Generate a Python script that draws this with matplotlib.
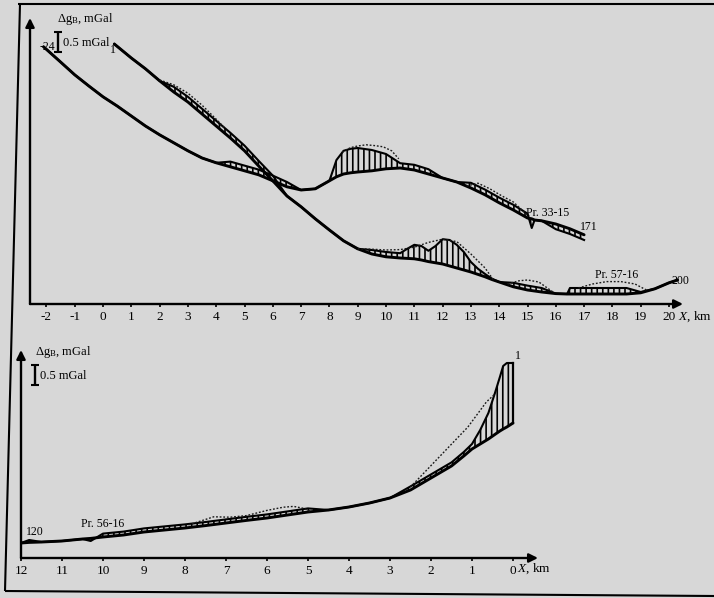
import numpy as np
import matplotlib
matplotlib.use("Agg")
import matplotlib.pyplot as plt
from matplotlib.lines import Line2D

plt.rcParams['font.family'] = ['Liberation Serif', 'DejaVu Serif']
plt.rcParams['mathtext.fontset'] = 'custom'
plt.rcParams['mathtext.rm'] = 'Liberation Serif'
plt.rcParams['mathtext.it'] = 'Liberation Serif:italic'
plt.rcParams['hatch.linewidth'] = 1.2
plt.rcParams['hatch.color'] = 'black'

# ---------------- data (relative mGal) ----------------
# Upper panel, profile starting at point -24 (ends at 171)
top_xG = [-2.1, -1.5, -1.0, -0.5, 0.0, 0.5, 1.0, 1.5, 2.0, 2.5, 3.0, 3.5, 4.0, 4.5, 5.0,
          5.5, 6.0, 6.5, 7.0, 7.5, 8.0, 8.25, 8.5, 8.75, 9.0, 9.5, 10.0, 10.5, 11.0, 11.5,
          12.0, 12.5, 13.0, 13.5, 14.0, 14.5, 15.0, 15.15, 15.25, 15.5, 16.0, 16.5, 17.0]
top_regG = [6.43, 6.05, 5.73, 5.45, 5.18, 4.95, 4.70, 4.45, 4.23, 4.03, 3.83, 3.65, 3.53, 3.43, 3.33,
            3.23, 3.08, 2.93, 2.85, 2.88, 3.08, 3.18, 3.25, 3.28, 3.30, 3.33, 3.38, 3.40, 3.35, 3.25,
            3.15, 3.05, 2.90, 2.73, 2.53, 2.35, 2.15, 2.13, 2.10, 2.08, 2.00, 1.88, 1.73]
top_obsG = [6.43, 6.05, 5.73, 5.45, 5.18, 4.95, 4.70, 4.45, 4.23, 4.03, 3.83, 3.65, 3.53, 3.56, 3.46,
            3.36, 3.21, 3.05, 2.85, 2.88, 3.08, 3.60, 3.83, 3.88, 3.90, 3.85, 3.75, 3.52, 3.48, 3.37,
            3.15, 3.05, 3.03, 2.86, 2.66, 2.48, 2.26, 1.90, 2.10, 2.08, 1.87, 1.75, 1.60]
top_dotG1_x = [8.45, 8.75, 9.0, 9.3, 9.6, 9.9, 10.2, 10.45]
top_dotG1_y = [3.80, 3.91, 3.95, 3.98, 3.96, 3.93, 3.83, 3.63]
top_dotG2_x = [12.85, 13.25, 13.67, 14.1, 14.5, 15.0]
top_dotG2_y = [2.95, 3.02, 2.88, 2.70, 2.55, 2.22]

# Upper panel, profile starting at point 1 (ends at 200)
top_xS = [0.4, 1.0, 1.5, 2.0, 2.5, 3.0, 3.5, 4.0, 4.5, 5.0, 5.5, 6.0, 6.5, 7.0, 7.5, 8.0,
          8.5, 9.0, 9.5, 10.0, 10.5, 10.75, 11.0, 11.25, 11.5, 11.75, 12.0, 12.25, 12.5,
          12.75, 13.0, 13.25, 13.5, 13.75, 14.0, 14.5, 15.0, 15.5, 16.0, 16.4, 16.5, 17.0,
          17.5, 18.0, 18.5, 19.0, 19.5, 20.0, 20.3]
top_regS = [6.50, 6.15, 5.88, 5.58, 5.30, 5.05, 4.75, 4.45, 4.15, 3.83, 3.45, 3.08, 2.70, 2.43, 2.13, 1.85,
            1.58, 1.38, 1.25, 1.18, 1.15, 1.14, 1.13, 1.10, 1.06, 1.03, 1.00, 0.95, 0.90,
            0.85, 0.80, 0.74, 0.68, 0.61, 0.55, 0.43, 0.35, 0.30, 0.26, 0.25, 0.25, 0.25,
            0.25, 0.25, 0.25, 0.28, 0.38, 0.53, 0.60]
top_obsS = [6.50, 6.15, 5.88, 5.58, 5.43, 5.18, 4.88, 4.58, 4.28, 3.96, 3.58, 3.21, 2.70, 2.43, 2.13, 1.85,
            1.58, 1.38, 1.35, 1.30, 1.27, 1.38, 1.48, 1.45, 1.33, 1.45, 1.62, 1.60, 1.48,
            1.30, 1.05, 0.88, 0.75, 0.63, 0.55, 0.53, 0.46, 0.40, 0.26, 0.25, 0.40, 0.40,
            0.40, 0.40, 0.40, 0.30, 0.38, 0.53, 0.60]
top_dotS1_x = [2.0, 2.5, 3.0, 3.5, 4.0, 4.3]
top_dotS1_y = [5.60, 5.48, 5.27, 4.97, 4.62, 4.40]
top_dotS2_x = [9.0, 9.5, 10.0, 10.5, 11.0, 11.5, 12.0, 12.5, 13.0, 13.5, 13.8]
top_dotS2_y = [1.38, 1.37, 1.35, 1.36, 1.42, 1.54, 1.62, 1.56, 1.25, 0.90, 0.60]
top_dotS3_x = [14.3, 14.7, 15.0, 15.4, 15.9]
top_dotS3_y = [0.50, 0.58, 0.60, 0.55, 0.30]
top_dotS4_x = [16.8, 17.3, 17.8, 18.3, 18.8, 19.2]
top_dotS4_y = [0.40, 0.50, 0.56, 0.56, 0.50, 0.35]

top_ticks = list(range(-2, 21))
top_ticklabels = [str(t) if t >= 0 else '-' + str(-t) for t in top_ticks]

# Lower panel, Pr. 56-16
bot_x = [12.0, 11.8, 11.5, 11.0, 10.5, 10.3, 10.0, 9.5, 9.0, 8.5, 8.0, 7.5, 7.0, 6.5, 6.0, 5.5,
         5.0, 4.5, 4.0, 3.5, 3.0, 2.5, 2.0, 1.5, 1.2, 1.0, 0.8, 0.6, 0.44, 0.32, 0.24, 0.15, 0.0]
bot_reg = [0.375, 0.39, 0.40, 0.425, 0.475, 0.49, 0.525, 0.575, 0.65, 0.70, 0.75, 0.81, 0.875, 0.94,
           1.00, 1.075, 1.15, 1.20, 1.275, 1.375, 1.50, 1.70, 2.00, 2.30, 2.55, 2.725, 2.85, 2.975,
           3.09, 3.175, 3.225, 3.275, 3.375]
bot_obs = [0.375, 0.45, 0.40, 0.425, 0.475, 0.425, 0.61, 0.66, 0.74, 0.79, 0.84, 0.90, 0.965, 1.03,
           1.09, 1.165, 1.24, 1.20, 1.275, 1.375, 1.50, 1.79, 2.09, 2.39, 2.65, 2.85, 3.20, 3.625,
           4.125, 4.525, 4.80, 4.875, 4.875]
bot_dot1_x = [8.0, 7.6, 7.3, 6.9, 6.5, 6.0, 5.6, 5.35, 5.1, 4.95]
bot_dot1_y = [0.80, 0.93, 1.03, 1.02, 1.06, 1.19, 1.27, 1.29, 1.24, 1.17]
bot_dot2_x = [2.5, 1.8, 1.1, 0.65, 0.44]
bot_dot2_y = [1.775, 2.525, 3.275, 3.90, 4.10]

bot_ticks = list(range(12, -1, -1))
bot_ticklabels = [str(t) for t in bot_ticks]

# ---------------- layout ----------------
W, H = 714, 598
BG = '#d7d7d7'
fig = plt.figure(figsize=(W / 100, H / 100), dpi=100, facecolor=BG)


def fx(px):
    return px / W


def fy(py):
    return 1 - py / H


def fig_line(xs, ys, lw=1.5):
    fig.add_artist(Line2D([fx(x) for x in xs], [fy(y) for y in ys], color='black',
                          lw=lw, transform=fig.transFigure, solid_capstyle='butt'))


def fig_text(px, py, s, size=9, ha='left', va='center', **kw):
    fig.text(fx(px), fy(py), s, fontsize=size, ha=ha, va=va, color='black', **kw)


def style_axes(ax, ticks, labels):
    for s in ax.spines.values():
        s.set_visible(False)
    ax.set_facecolor('none')
    ax.set_yticks([])
    ax.set_xticks(ticks)
    ax.set_xticklabels(labels)
    ax.tick_params(axis='x', direction='out', length=2.5, width=1.2, pad=2.5,
                   labelsize=9.5, colors='black')
    arrow = dict(arrowstyle='-|>', lw=1.7, color='black', mutation_scale=13,
                 shrinkA=0, shrinkB=0)
    ax.annotate('', xy=(1, 0), xytext=(0, 0), xycoords='axes fraction', arrowprops=arrow)
    ax.annotate('', xy=(0, 1), xytext=(0, 0), xycoords='axes fraction', arrowprops=arrow)


def draw_profile(ax, x, reg, obs):
    ax.fill_between(x, reg, obs, facecolor='none', edgecolor='black', hatch='|||',
                    linewidth=0)
    ax.plot(x, obs, color='black', lw=1.5, solid_joinstyle='round')
    ax.plot(x, reg, color='black', lw=2.1, solid_capstyle='round', solid_joinstyle='round')


def draw_dotted(ax, x, y):
    ax.plot(x, y, color='#1a1a1a', lw=1.0, ls=(0, (1.3, 1.3)))


# page frame
fig_line([18, 714], [4, 4])
fig_line([20, 5], [4, 591])
fig_line([5, 714], [591, 596])

# ---- upper panel ----
ax1 = fig.add_axes([fx(30), fy(304), fx(683) - fx(30), (304 - 18) / H])
ax1.set_xlim((30 - 103) / 28.3, (683 - 103) / 28.3)
ax1.set_ylim(0, (304 - 18) / 40)
style_axes(ax1, top_ticks, top_ticklabels)

draw_profile(ax1, top_xG, top_regG, top_obsG)
draw_profile(ax1, top_xS, top_regS, top_obsS)
for xd, yd in [(top_dotG1_x, top_dotG1_y), (top_dotG2_x, top_dotG2_y),
               (top_dotS1_x, top_dotS1_y), (top_dotS2_x, top_dotS2_y),
               (top_dotS3_x, top_dotS3_y), (top_dotS4_x, top_dotS4_y)]:
    draw_dotted(ax1, xd, yd)

fig_text(57, 19, 'Δg$_\\mathregular{B}$, mGal')
fig_line([58, 58], [32, 52], lw=1.7)
fig_line([54, 62], [32, 32], lw=1.5)
fig_line([54, 62], [52, 52], lw=1.5)
fig_text(63, 43, '0.5 mGal')
fig_text(40, 47, '-24', size=8.5)
fig_text(110, 50, '1', size=8.5)
fig_text(526, 213, 'Pr. 33-15', size=8.5)
fig_text(580, 227, '171', size=8.5)
fig_text(595, 275, 'Pr. 57-16', size=8.5)
fig_text(672, 281, '200', size=8.5)
fig_text(678, 317, '$\\mathit{X}$, km', size=9.5)

# ---- lower panel ----
ax2 = fig.add_axes([fx(21), fy(558), fx(538) - fx(21), (558 - 350) / H])
ax2.set_xlim(12.0, (513 - 538) / 41)
ax2.set_ylim(0, (558 - 350) / 40)
style_axes(ax2, bot_ticks, bot_ticklabels)

draw_profile(ax2, bot_x, bot_reg, bot_obs)
ax2.plot([bot_x[-1], bot_x[-1]], [bot_reg[-1], bot_obs[-1]], color='black', lw=1.6)
draw_dotted(ax2, bot_dot1_x, bot_dot1_y)
draw_dotted(ax2, bot_dot2_x, bot_dot2_y)

fig_text(35, 352, 'Δg$_\\mathregular{B}$, mGal')
fig_line([35, 35], [365, 385], lw=1.7)
fig_line([31, 39], [365, 365], lw=1.5)
fig_line([31, 39], [385, 385], lw=1.5)
fig_text(40, 376, '0.5 mGal')
fig_text(26, 532, '120', size=8.5)
fig_text(81, 524, 'Pr. 56-16', size=8.5)
fig_text(515, 356, '1', size=8.5)
fig_text(517, 569, '$\\mathit{X}$, km', size=9.5)

fig.savefig('out.png', dpi=100, facecolor=BG)
